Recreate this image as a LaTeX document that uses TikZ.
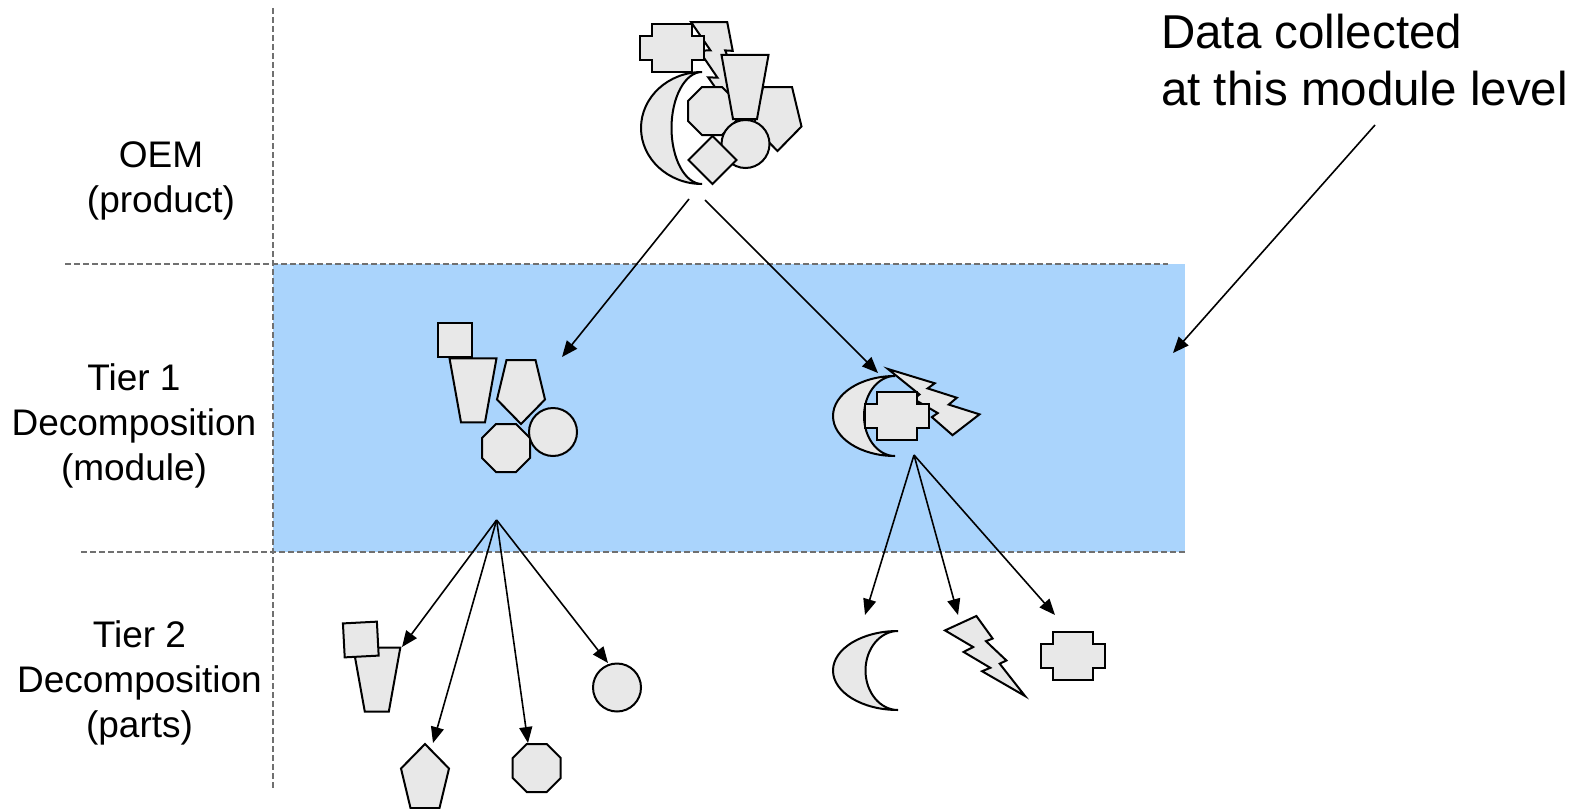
\documentclass[tikz,border=0pt]{standalone}
\usepackage{fontspec}
\setmainfont{Liberation Sans}
\usetikzlibrary{arrows.meta}

\definecolor{shapegray}{RGB}{232,232,232}
\definecolor{moduleblue}{RGB}{170,212,252}
\definecolor{guidegray}{RGB}{112,112,112}

\tikzset{
  part/.style={draw=black, fill=shapegray, line width=2pt, line join=miter},
  link/.style={draw=black, line width=1.6pt, -{Triangle[length=16pt,width=13pt]}},
  guide/.style={draw=guidegray, line width=1.3pt, dash pattern=on 6pt off 3pt},
  tierlabel/.style={font=\fontsize{37}{45}\selectfont, align=center, anchor=north, inner sep=0pt},
  notelabel/.style={font=\fontsize{47.5}{56.5}\selectfont, align=left, anchor=north west, inner sep=0pt},
  % lightning bolt in a unit box, top-left corner at the origin
  bolt/.pic={\draw[part] (0.3922,0) -- (0.5954,0.2815) -- (0.5116,0.3147) -- (0.7675,0.5559)
      -- (0.6837,0.5962) -- (1,1) -- (0.4635,0.6905) -- (0.5658,0.6475) -- (0.2325,0.4493)
      -- (0.3519,0.3880) -- (0,0.1801) -- cycle;},
  % plus sign 64 x 48, top-left corner at the origin
  plus/.pic={\draw[part] (12,0) -- (52,0) -- (52,12) -- (64,12) -- (64,36) -- (52,36)
      -- (52,48) -- (12,48) -- (12,36) -- (0,36) -- (0,12) -- (12,12) -- cycle;},
  % octagon 48 x 48
  octa/.pic={\draw[part] (14,0) -- (34,0) -- (48,14) -- (48,34) -- (34,48) -- (14,48)
      -- (0,34) -- (0,14) -- cycle;},
  % trapezoid, wide side on top
  trap/.pic={\draw[part] (0,0) -- (47,0) -- (35.5,64) -- (11.5,64) -- cycle;},
  % pentagon, point up
  pentup/.pic={\draw[part] (24,0) -- (48,24.5) -- (38.5,64) -- (9.5,64) -- (0,24.5) -- cycle;},
  % pentagon, point down
  pentdown/.pic={\draw[part] (9.5,0) -- (38.5,0) -- (48,39.5) -- (24,64) -- (0,39.5) -- cycle;},
  % square, centred on the origin
  sq/.pic={\draw[part] (-17,-17) rectangle (17,17);},
}

\begin{document}
\begin{tikzpicture}[x=1pt, y=-1pt]
\useasboundingbox (0,0) rectangle (1589,808);

% module band and level separators
\fill[moduleblue] (273,264) rectangle (1185,552);
\draw[guide] (273,8) -- (273,790);
\draw[guide] (65,264) -- (1168,264);
\draw[guide] (81,552) -- (1185,552);

% level labels
\node[tierlabel] (oem) at (161,141) {OEM\\(product)};
\node[tierlabel] (tier1) at (134,363.5) {Tier 1\\Decomposition\\(module)};
\node[tierlabel] (tier2) at (139.5,620) {Tier 2\\Decomposition\\(parts)};
\node[notelabel] (note) at (1161,14) {Data collected\\at this module level};

% ---- OEM product: all parts assembled ----
\pic[shift={(697.4,8.3)}, rotate=-25, scale=84] {bolt};
\pic at (640,24) {plus};
\draw[part] (702,72) arc[start angle=90, end angle=270, x radius=61pt, y radius=56pt]
  arc[start angle=270, end angle=90, x radius=30.5pt, y radius=56pt] -- cycle;
\pic at (753.5,87) {pentdown};
\pic at (688,87) {octa};
\pic at (721.5,55) {trap};
\draw[part] (745.5,144) circle[radius=24pt];
\pic[rotate=45] at (712.5,160) {sq};

% ---- Tier 1: left module ----
\pic at (454.5,339.7) {sq};
\pic at (449.5,358.3) {trap};
\pic at (497,360) {pentdown};
\pic at (482,424) {octa};
\draw[part] (553,432) circle[radius=24pt];

% ---- Tier 1: right module ----
\pic[shift={(982.7,428.2)}, rotate=193, scale=79] {bolt};
\draw[part] (895,376) arc[start angle=90, end angle=270, x radius=62pt, y radius=40pt]
  arc[start angle=270, end angle=90, x radius=31pt, y radius=40pt] -- cycle;
\pic at (865,392) {plus};

% ---- Tier 2: parts of the left module ----
\pic at (353.3,647.7) {trap};
\pic[rotate=3] at (360.8,639.5) {sq};
\draw[part] (617,687.5) circle[radius=24pt];
\pic at (512.7,744) {octa};
\pic at (401,744) {pentup};

% ---- Tier 2: parts of the right module ----
\draw[part] (898,631) arc[start angle=90, end angle=270, x radius=65pt, y radius=39.5pt]
  arc[start angle=270, end angle=90, x radius=32.5pt, y radius=39.5pt] -- cycle;
\pic[shift={(945,616)}, scale=80] {bolt};
\pic at (1041,632) {plus};

% connector end points
\coordinate (oemL) at (689,199);
\coordinate (oemR) at (705,200);
\coordinate (t1Lin) at (562,357);
\coordinate (t1Rin) at (878,373);
\coordinate (noteTail) at (1375,125);
\coordinate (bandEdge) at (1173,353);
\coordinate (t1Lout) at (496.6,520);
\coordinate (t1Rout) at (914,455);
\coordinate (t2trap) at (402,647);
\coordinate (t2pent) at (433,743);
\coordinate (t2oct) at (528,743);
\coordinate (t2circ) at (608,663);
\coordinate (t2moon) at (865,615);
\coordinate (t2bolt) at (958,615);
\coordinate (t2plus) at (1055,615);

% connectors
\draw[link] (oemL) -- (t1Lin);
\draw[link] (oemR) -- (t1Rin);
\draw[link] (noteTail) -- (bandEdge);
\draw[link] (t1Lout) -- (t2trap);
\draw[link] (t1Lout) -- (t2pent);
\draw[link] (t1Lout) -- (t2oct);
\draw[link] (t1Lout) -- (t2circ);
\draw[link] (t1Rout) -- (t2moon);
\draw[link] (t1Rout) -- (t2bolt);
\draw[link] (t1Rout) -- (t2plus);
\end{tikzpicture}
\end{document}
